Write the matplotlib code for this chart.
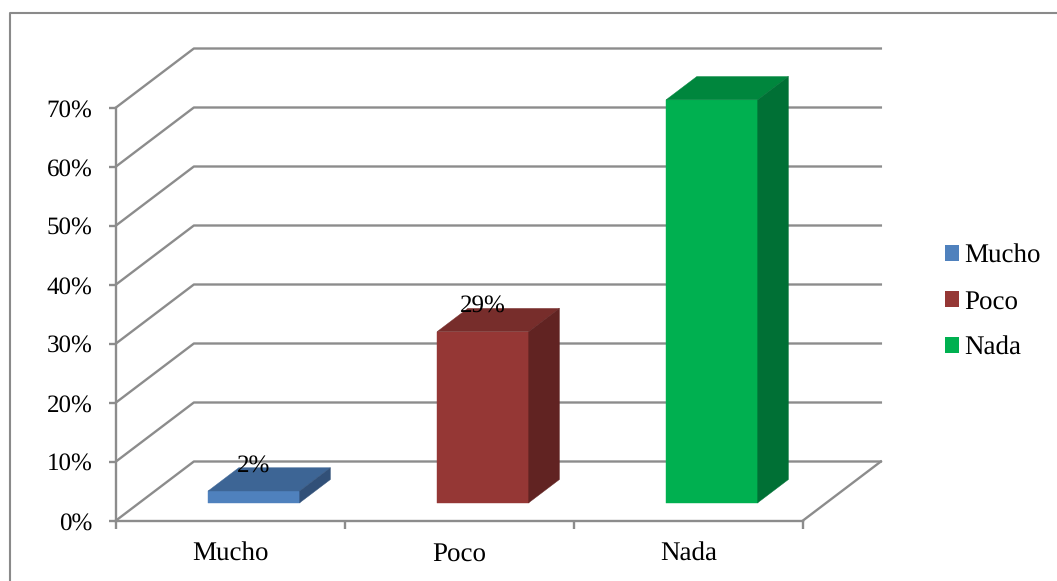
"""
Columnas 3D (estilo Excel) dibujadas con proyeccion oblicua sobre un eje normal
"""

import matplotlib
matplotlib.use('Agg')
import matplotlib.pyplot as plt
from matplotlib.patches import Patch
from matplotlib.lines import Line2D

plt.rcParams['font.family'] = ['Liberation Serif', 'DejaVu Serif']
plt.rcParams['text.hinting'] = 'no_hinting'
plt.rcParams['text.hinting_factor'] = 1

categorias = ['Mucho', 'Poco', 'Nada']
valores = [2, 29, 68.3]
y_ticks = [0, 10, 20, 30, 40, 50, 60, 70]

color_frente = ['#4F81BD', '#953735', '#00B050']
color_arriba = ['#3D6595', '#772D2B', '#00863D']
color_lado = ['#315078', '#612322', '#007035']
GRIS = '#8C8C8C'
FS_NOMBRE = 19.6
FS_PCT = 18.3

# profundidad de la proyeccion, en unidades de los ejes
DX = 0.34
DY = 10.0
ANCHO = 0.4
Z0, Z1 = 0.3, 0.695


def proyectar(x, y, z):
    return x + DX * z, y + DY * z


def dibujar_barra(ax, i, valor):
    x0 = i + 0.5 - ANCHO / 2
    x1 = x0 + ANCHO
    caras = [
        ([(x0, 0, Z0), (x1, 0, Z0), (x1, valor, Z0), (x0, valor, Z0)], color_frente[i]),
        ([(x0, valor, Z0), (x1, valor, Z0), (x1, valor, Z1), (x0, valor, Z1)], color_arriba[i]),
        ([(x1, 0, Z0), (x1, 0, Z1), (x1, valor, Z1), (x1, valor, Z0)], color_lado[i]),
    ]
    for puntos, color in caras:
        xy = [proyectar(*p) for p in puntos]
        ax.fill([p[0] for p in xy], [p[1] for p in xy], color=color, lw=0.3, clip_on=False, zorder=3)
    cx, cy = proyectar(i + 0.5, valor, Z0)
    ax.annotate(f'{valor:.0f}%', (cx, cy), xytext=(0, 18.5), textcoords='offset points',
                ha='center', va='center', fontsize=FS_PCT, color='black', zorder=5)


W, H = 1057, 581
fig = plt.figure(figsize=(W / 100, H / 100), dpi=100, facecolor='white')
ax = fig.add_axes([116 / W, 1 - 520.5 / H, (803 - 116) / W, (520.5 - 107.5) / H])
ax.set_xlim(0, 3)
ax.set_ylim(0, 70)
ax.patch.set_visible(False)

# paredes y piso
for y in y_ticks:
    x_p, y_p = proyectar(0, y, 1)
    ax.plot([0, x_p, 3 + DX], [y, y_p, y_p], color=GRIS, lw=1.7, clip_on=False, zorder=1)
x_p, y_p = proyectar(3, 0, 1)
ax.plot([3, x_p], [0, y_p], color=GRIS, lw=1.7, clip_on=False, zorder=1)

for i, v in enumerate(valores):
    dibujar_barra(ax, i, v)

# ejes
for lado in ['top', 'right']:
    ax.spines[lado].set_visible(False)
for lado in ['left', 'bottom']:
    ax.spines[lado].set_color(GRIS)
    ax.spines[lado].set_linewidth(1.7)
ax.set_yticks(y_ticks)
ax.set_yticklabels([f'{y}%' for y in y_ticks], fontsize=FS_PCT, color='black')
ax.tick_params(axis='y', length=5, width=1.7, color=GRIS, pad=12)
ax.set_xticks([0, 1, 2, 3])
ax.set_xticklabels([])
ax.tick_params(axis='x', length=6, width=1.7, color=GRIS)
ax.set_xticks([0.5, 1.5, 2.5], minor=True)
ax.set_xticklabels(categorias, minor=True, fontsize=FS_NOMBRE, color='black')
ax.tick_params(axis='x', which='minor', length=0, pad=15.5)

handles = [Patch(facecolor=c, edgecolor='none') for c in color_frente]
fig.legend(handles, categorias, loc='center left', bbox_to_anchor=(937 / W, 1 - 302.5 / H),
           frameon=False, fontsize=FS_NOMBRE, handlelength=0.51, handleheight=0.51,
           handletextpad=0.2, labelspacing=0.79, borderpad=0.3, borderaxespad=0)

# marco exterior
fig.add_artist(Line2D([9.5 / W, 9.5 / W, 1], [0, 1 - 12.5 / H, 1 - 12.5 / H], color='#8A8A8A', lw=1.5))

fig.savefig('out.png', dpi=100, facecolor='white')
